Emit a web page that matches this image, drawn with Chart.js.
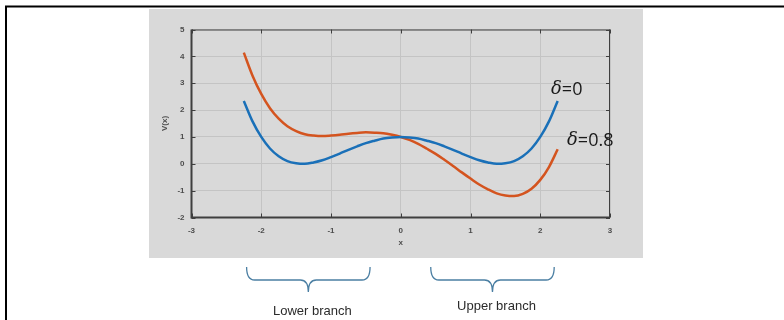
<!DOCTYPE html>
<html>
<head>
<meta charset="utf-8">
<script src="https://cdn.jsdelivr.net/npm/chart.js@4.4.1/dist/chart.umd.min.js"></script>
<style>
  html, body { margin: 0; padding: 0; background: #ffffff; }
  #wrap { width: 784px; height: 320px; }
</style>
</head>
<body>
<div id="wrap"><canvas id="potential" width="784" height="320"></canvas></div>
<script>
// x positions of the samples
var xs = [-2.25, -2.125, -2, -1.875, -1.75, -1.625, -1.5, -1.375, -1.25, -1.125, -1,
          -0.875, -0.75, -0.625, -0.5, -0.375, -0.25, -0.125, 0,
          0.125, 0.25, 0.375, 0.5, 0.625, 0.75, 0.875, 1, 1.125, 1.25,
          1.375, 1.5, 1.625, 1.75, 1.875, 2, 2.125, 2.25];

// delta = 0 (blue)
var vDelta0 = [2.34, 1.58, 1.00, 0.57, 0.28, 0.10, 0.02, 0.00, 0.05, 0.13, 0.25,
               0.38, 0.52, 0.65, 0.77, 0.86, 0.94, 0.98, 1.00,
               0.98, 0.94, 0.86, 0.77, 0.65, 0.52, 0.38, 0.25, 0.13, 0.05,
               0.00, 0.02, 0.10, 0.28, 0.57, 1.00, 1.58, 2.34];

// delta = 0.8 (orange)
var vDelta08 = [4.14, 3.28, 2.60, 2.07, 1.68, 1.40, 1.22, 1.10, 1.05, 1.03, 1.05,
                1.08, 1.12, 1.15, 1.17, 1.16, 1.14, 1.08, 1.00,
                0.89, 0.74, 0.56, 0.37, 0.15, -0.08, -0.32, -0.55, -0.77, -0.95,
                -1.10, -1.18, -1.20, -1.12, -0.93, -0.60, -0.12, 0.54];

var xTicks = [-3, -2, -1, 0, 1, 2, 3];
var yTicks = [-2, -1, 0, 1, 2, 3, 4, 5];

// brace spans under the plot, in x units
var lowerBranch = [-2.21, -0.44];
var upperBranch = [0.43, 2.2];

function toPoints(vals) {
    var pts = [];
    for (var i = 0; i < xs.length; i++) {
        pts.push({ x: xs[i], y: vals[i] });
    }
    return pts;
}

var axisColor = '#3f3f3f';
var tickFont = { family: 'Liberation Sans', size: 8, weight: 'bold' };

// page background, frame and the grey figure panel
var backdrop = {
    id: 'backdrop',
    beforeDraw: function (chart) {
        var ctx = chart.ctx;
        ctx.save();
        ctx.fillStyle = '#ffffff';
        ctx.fillRect(0, 0, chart.width, chart.height);
        ctx.fillStyle = '#d9d9d9';
        ctx.fillRect(149, 9, 494, 249);
        ctx.strokeStyle = '#000000';
        ctx.lineWidth = 2;
        ctx.beginPath();
        ctx.moveTo(5, 6.5);
        ctx.lineTo(784, 6.5);
        ctx.moveTo(6, 6);
        ctx.lineTo(6, 320);
        ctx.stroke();
        ctx.restore();
    }
};

function brace(ctx, x1, x2, yTop, yMid, yTip) {
    var xm = (x1 + x2) / 2;
    var r = 8;
    ctx.beginPath();
    ctx.moveTo(x1, yTop);
    ctx.quadraticCurveTo(x1, yMid, x1 + r, yMid);
    ctx.lineTo(xm - r, yMid);
    ctx.quadraticCurveTo(xm, yMid, xm, yTip);
    ctx.quadraticCurveTo(xm, yMid, xm + r, yMid);
    ctx.lineTo(x2 - r, yMid);
    ctx.quadraticCurveTo(x2, yMid, x2, yTop);
    ctx.stroke();
}

// box, inward ticks, curve labels and branch braces
var extras = {
    id: 'extras',
    afterDraw: function (chart) {
        var ctx = chart.ctx;
        var a = chart.chartArea;
        var sx = chart.scales.x, sy = chart.scales.y;
        ctx.save();

        ctx.strokeStyle = axisColor;
        ctx.lineWidth = 1;
        ctx.beginPath();
        ctx.moveTo(a.left, a.top + 0.5);
        ctx.lineTo(a.right, a.top + 0.5);
        ctx.moveTo(a.right - 0.5, a.top);
        ctx.lineTo(a.right - 0.5, a.bottom);
        xTicks.forEach(function (v) {
            var px = Math.round(sx.getPixelForValue(v)) + 0.5;
            ctx.moveTo(px, a.bottom);
            ctx.lineTo(px, a.bottom - 4);
            ctx.moveTo(px, a.top);
            ctx.lineTo(px, a.top + 4);
        });
        yTicks.forEach(function (v) {
            var py = Math.round(sy.getPixelForValue(v)) + 0.5;
            ctx.moveTo(a.left, py);
            ctx.lineTo(a.left + 4, py);
            ctx.moveTo(a.right, py);
            ctx.lineTo(a.right - 4, py);
        });
        ctx.stroke();
        ctx.lineWidth = 2;
        ctx.beginPath();
        ctx.moveTo(a.left, a.top);
        ctx.lineTo(a.left, a.bottom);
        ctx.lineTo(a.right, a.bottom);
        ctx.stroke();

        // curve labels
        ctx.fillStyle = '#1a1a1a';
        ctx.textBaseline = 'middle';
        ctx.textAlign = 'left';
        function deltaLabel(text, x, y) {
            ctx.font = 'italic 18px "DejaVu Serif"';
            ctx.fillText('\u03b4', x, y);
            var w = ctx.measureText('\u03b4').width;
            ctx.font = '18px "Open Sans"';
            ctx.fillText(text, x + w, y + 1);
        }
        deltaLabel('=0', 551, 89);
        deltaLabel('=0.8', 567, 140);

        // braces
        ctx.strokeStyle = '#4b7fa3';
        ctx.lineWidth = 1.3;
        brace(ctx, sx.getPixelForValue(lowerBranch[0]), sx.getPixelForValue(lowerBranch[1]), 267, 280, 292);
        brace(ctx, sx.getPixelForValue(upperBranch[0]), sx.getPixelForValue(upperBranch[1]), 267, 280, 292);

        ctx.fillStyle = '#2b2b2b';
        ctx.textAlign = 'center';
        ctx.font = '13px "Liberation Sans"';
        ctx.fillText('Lower branch', sx.getPixelForValue((lowerBranch[0] + lowerBranch[1]) / 2) + 4, 311);
        ctx.fillText('Upper branch', sx.getPixelForValue((upperBranch[0] + upperBranch[1]) / 2) + 4, 306);
        ctx.restore();
    }
};

var ctx = document.getElementById('potential').getContext('2d');
new Chart(ctx, {
    type: 'scatter',
    data: {
        datasets: [{
            label: 'delta=0',
            data: toPoints(vDelta0),
            showLine: true,
            borderColor: '#1a70b8',
            borderWidth: 2.5,
            pointRadius: 0,
            cubicInterpolationMode: 'monotone',
            fill: false
        }, {
            label: 'delta=0.8',
            data: toPoints(vDelta08),
            showLine: true,
            borderColor: '#d4541f',
            borderWidth: 2.5,
            pointRadius: 0,
            cubicInterpolationMode: 'monotone',
            fill: false
        }]
    },
    options: {
        responsive: false,
        animation: false,
        events: [],
        layout: {
            padding: { left: 150, top: 29.5, right: 174, bottom: 72.5 }
        },
        plugins: {
            legend: { display: false },
            tooltip: { enabled: false }
        },
        scales: {
            x: {
                type: 'linear',
                min: -3,
                max: 3,
                afterFit: function (s) { s.height = 30; },
                afterBuildTicks: function (s) {
                    s.ticks = xTicks.map(function (v) { return { value: v }; });
                },
                border: { display: false },
                grid: { color: '#c4c4c4', lineWidth: 1, drawTicks: false },
                ticks: { color: '#4d4d4d', font: tickFont, padding: 8, maxRotation: 0 },
                title: {
                    display: true,
                    text: 'x',
                    color: '#4d4d4d',
                    font: tickFont,
                    padding: { top: 0, bottom: 0 }
                }
            },
            y: {
                type: 'linear',
                min: -2,
                max: 5,
                afterFit: function (s) { s.width = 41.5; },
                afterBuildTicks: function (s) {
                    s.ticks = yTicks.map(function (v) { return { value: v }; });
                },
                border: { display: false },
                grid: { color: '#c4c4c4', lineWidth: 1, drawTicks: false },
                ticks: { color: '#4d4d4d', font: tickFont, padding: 7 },
                title: {
                    display: true,
                    text: 'V(x)',
                    color: '#4d4d4d',
                    font: tickFont,
                    padding: { top: 10, bottom: 0 }
                }
            }
        }
    },
    plugins: [backdrop, extras]
});
</script>
</body>
</html>
